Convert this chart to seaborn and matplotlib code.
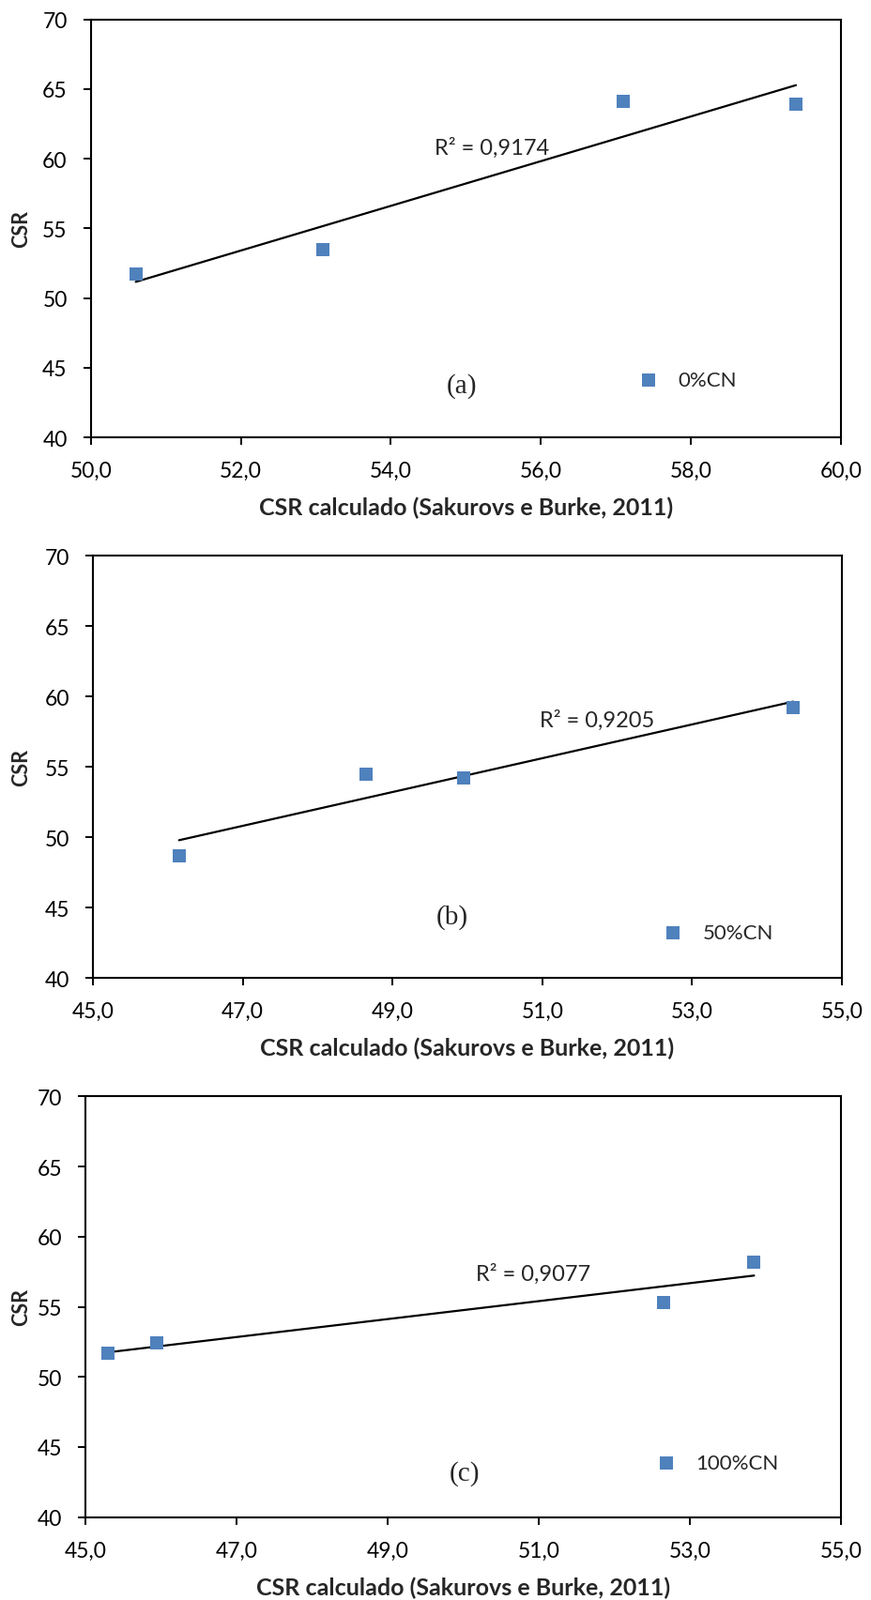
import matplotlib
matplotlib.use("Agg")
import matplotlib.pyplot as plt
import seaborn as sns
import numpy as np
from matplotlib.ticker import FuncFormatter, FixedLocator

# ---- data ----
x_a = [50.6, 53.1, 57.1, 59.4]
y_a = [51.7, 53.5, 64.1, 63.9]
x_b = [46.15, 48.65, 49.95, 54.35]
y_b = [48.7, 54.5, 54.2, 59.2]
x_c = [45.3, 45.95, 52.65, 53.85]
y_c = [51.7, 52.4, 55.3, 58.2]

series_labels = ["0%CN", "50%CN", "100%CN"]
panel_tags = ["(a)", "(b)", "(c)"]
r2_texts = ["R² = 0,9174", "R² = 0,9205", "R² = 0,9077"]
x_ticks = [[50.0, 52.0, 54.0, 56.0, 58.0, 60.0],
           [45.0, 47.0, 49.0, 51.0, 53.0, 55.0],
           [45.0, 47.0, 49.0, 51.0, 53.0, 55.0]]
y_ticks = [40, 45, 50, 55, 60, 65, 70]
xlabel = "CSR calculado (Sakurovs e Burke, 2011)"
ylabel = "CSR"

# ---- style ----
sns.set_theme(style="ticks")
plt.rcParams["font.family"] = ["Lato", "DejaVu Sans"]

W, H = 929, 1706
fig = plt.figure(figsize=(W / 100, H / 100), dpi=100)

# axes boxes in pixels: left, top, right, bottom
boxes = [(96.7, 21.7, 896, 467), (99, 593.3, 897, 1043.3), (91, 1169.3, 896, 1617.7)]
r2_pos = [(55.35, 60.8), (51.73, 58.4), (50.93, 57.4)]
tag_pos = [(0.495, 0.124), (0.48, 0.147), (0.502, 0.106)]
leg_pos = [(0.730, 0.137), (0.761, 0.107), (0.755, 0.129)]

data = [(x_a, y_a), (x_b, y_b), (x_c, y_c)]
blue = "#4F81BD"

for i, ((xs, ys), (l, t, r, b)) in enumerate(zip(data, boxes)):
    ax = fig.add_axes([l / W, 1 - b / H, (r - l) / W, (b - t) / H])
    sns.regplot(x=xs, y=ys, ax=ax, ci=None, truncate=True, marker="s",
                label=series_labels[i],
                scatter_kws=dict(s=115, color=blue, linewidths=0, zorder=3, alpha=1),
                line_kws=dict(color="black", lw=1.6, zorder=2))
    ax.set_xlim(x_ticks[i][0], x_ticks[i][-1])
    ax.set_ylim(y_ticks[0], y_ticks[-1])
    ax.xaxis.set_major_locator(FixedLocator(x_ticks[i]))
    ax.yaxis.set_major_locator(FixedLocator(y_ticks))
    ax.xaxis.set_major_formatter(FuncFormatter(lambda v, p: f"{v:.1f}".replace(".", ",")))
    ax.yaxis.set_major_formatter(FuncFormatter(lambda v, p: f"{v:.0f}"))
    ax.tick_params(axis="both", which="major", direction="out", length=6, width=1.4,
                   labelsize=16.5, pad=12, colors="black", top=False, right=False)
    for sp in ax.spines.values():
        sp.set_visible(True)
        sp.set_linewidth(1.5)
        sp.set_color("black")
    ax.set_xlabel(xlabel, fontsize=18, fontweight="bold", labelpad=12,
                  family=["Lato", "DejaVu Sans"])
    ax.set_ylabel(ylabel, fontsize=15.5, fontweight="bold",
                  family=["Lato", "DejaVu Sans"])
    ax.yaxis.set_label_coords(-(l - 33) / (r - l), 0.5)
    ax.text(*r2_pos[i], r2_texts[i], fontsize=17, ha="center", va="center")
    ax.text(*tag_pos[i], panel_tags[i], transform=ax.transAxes, fontsize=21,
            ha="center", va="center", family=["Liberation Serif", "DejaVu Serif"])
    ax.legend(loc="center left", bbox_to_anchor=leg_pos[i], frameon=False,
              fontsize=16, handlelength=1.0, handletextpad=0.9, borderpad=0,
              borderaxespad=0, scatterpoints=1)

fig.savefig("out.png", dpi=100)
